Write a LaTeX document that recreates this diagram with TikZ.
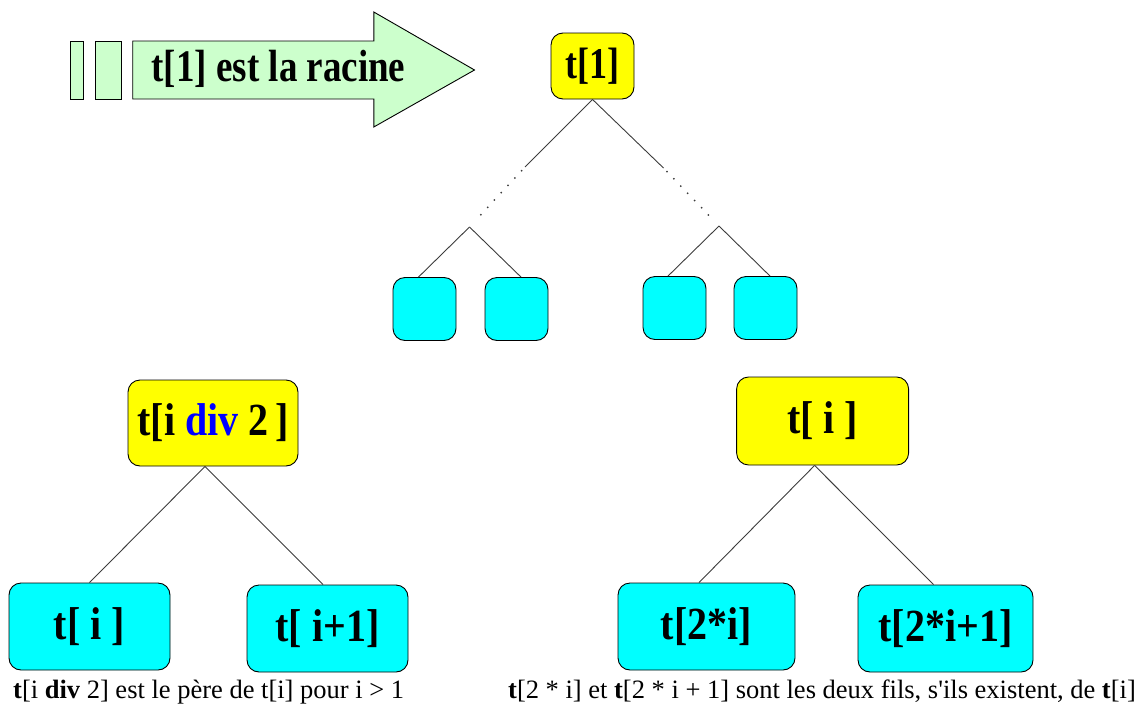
\documentclass[tikz,border=0pt]{standalone}
\usepackage{fontspec}
\setmainfont{Liberation Serif}[Ligatures=TeXOff]
\usepackage{graphicx}
\definecolor{argreen}{RGB}{204,255,204}
\definecolor{ndyellow}{RGB}{255,255,0}
\definecolor{ndcyan}{RGB}{0,255,255}
\definecolor{edgegray}{RGB}{60,60,60}
\definecolor{divblue}{RGB}{0,0,255}
\newcommand{\tallt}[1]{\scalebox{1}[1.15]{#1}}
\newcommand{\tallu}[1]{\scalebox{1}[1.22]{#1}}
\begin{document}
\begin{tikzpicture}[x=1pt,y=-1pt,
 box/.style={draw=black,line width=0.9pt,rounded corners=12pt,inner sep=0pt,font=\bfseries\fontsize{40}{40}\selectfont},
 ybox/.style={box,fill=ndyellow},
 cbox/.style={box,fill=ndcyan},
 smallbox/.style={cbox,minimum width=63pt,minimum height=63pt},
 edge/.style={draw=edgegray,line width=0.9pt},
 dotline/.style={draw=edgegray,line width=2pt,line cap=round,dash pattern=on 0pt off 10pt},
 arrowpart/.style={draw=black,line width=0.9pt,fill=argreen},
 caption/.style={anchor=base west,inner sep=0pt,font=\fontsize{26.5}{30}\selectfont}]
\useasboundingbox (0,0) rectangle (1148,704);

% arrow
\draw[arrowpart] (70.3,41) rectangle (83,99);
\draw[arrowpart] (95.6,41) rectangle (121,99);
\draw[arrowpart] (132.7,41) -- (373.8,41) -- (373.8,12) -- (474.5,70) -- (373.8,127) -- (373.8,99) -- (132.7,99) -- cycle;
\node[font=\bfseries\fontsize{37}{37}\selectfont,inner sep=0pt] (arrowtxt) at (278.5,69) {\tallu{t[1] est la racine}};

% top tree
\node[ybox,minimum width=83pt,minimum height=66pt,font=\bfseries\fontsize{36}{36}\selectfont] (root) at (592.5,66) {\tallu{t[1]}};
\node[smallbox] (c1) at (424.5,309) {};
\node[smallbox] (c2) at (516.5,309) {};
\node[smallbox] (c3) at (674.5,308) {};
\node[smallbox] (c4) at (765.5,308) {};
\coordinate (ls) at (525,167);
\coordinate (la) at (469.5,227);
\coordinate (rs) at (663.5,168);
\coordinate (ra) at (719,226);
\draw[edge] (root.south) -- (ls);
\draw[edge] (root.south) -- (rs);
\draw[dotline,shorten <=5pt,shorten >=8pt] (ls) -- (la);
\draw[dotline,shorten <=5pt,shorten >=8pt] (rs) -- (ra);
\draw[edge] (la) -- ([xshift=-6pt]c1.north);
\draw[edge] (la) -- ([xshift=4.5pt]c2.north);
\draw[edge] (ra) -- ([xshift=-6.5pt]c3.north);
\draw[edge] (ra) -- ([xshift=4.5pt]c4.north);

% bottom left tree
\node[ybox,minimum width=170pt,minimum height=86pt] (pL) at (213,423) {\tallt{t[i \textcolor{divblue}{div} 2\,]}};
\node[cbox,minimum width=161pt,minimum height=87pt] (cL1) at (89.5,626.5) {\tallt{t[ i ]}};
\node[cbox,minimum width=161pt,minimum height=87pt] (cL2) at (327.5,628.5) {\tallt{t[ i+1]}};
\draw[edge] ([xshift=-8pt]pL.south) -- (cL1.north);
\draw[edge] ([xshift=-8pt]pL.south) -- ([xshift=-4.5pt]cL2.north);

% bottom right tree
\node[ybox,minimum width=172pt,minimum height=88pt] (pR) at (822.6,421) {\tallt{t[ i ]}};
\node[cbox,minimum width=177pt,minimum height=87pt] (cR1) at (706.5,626.5) {\tallt{t[2*i]}};
\node[cbox,minimum width=175pt,minimum height=87pt] (cR2) at (945.5,628.5) {\tallt{t[2*i+1]}};
\draw[edge] ([xshift=-8pt]pR.south) -- ([xshift=-7.5pt]cR1.north);
\draw[edge] ([xshift=-8pt]pR.south) -- ([xshift=-12pt]cR2.north);

% captions
\node[caption] (capL) at (13,698) {\textbf{t}[i \textbf{div} 2] est le père de t[i] pour i > 1};
\node[caption] (capR) at (508,698) {\textbf{t}[2 * i] et \textbf{t}[2 * i + 1] sont les deux fils, s'ils existent, de \textbf{t}[i]};
\end{tikzpicture}
\end{document}
